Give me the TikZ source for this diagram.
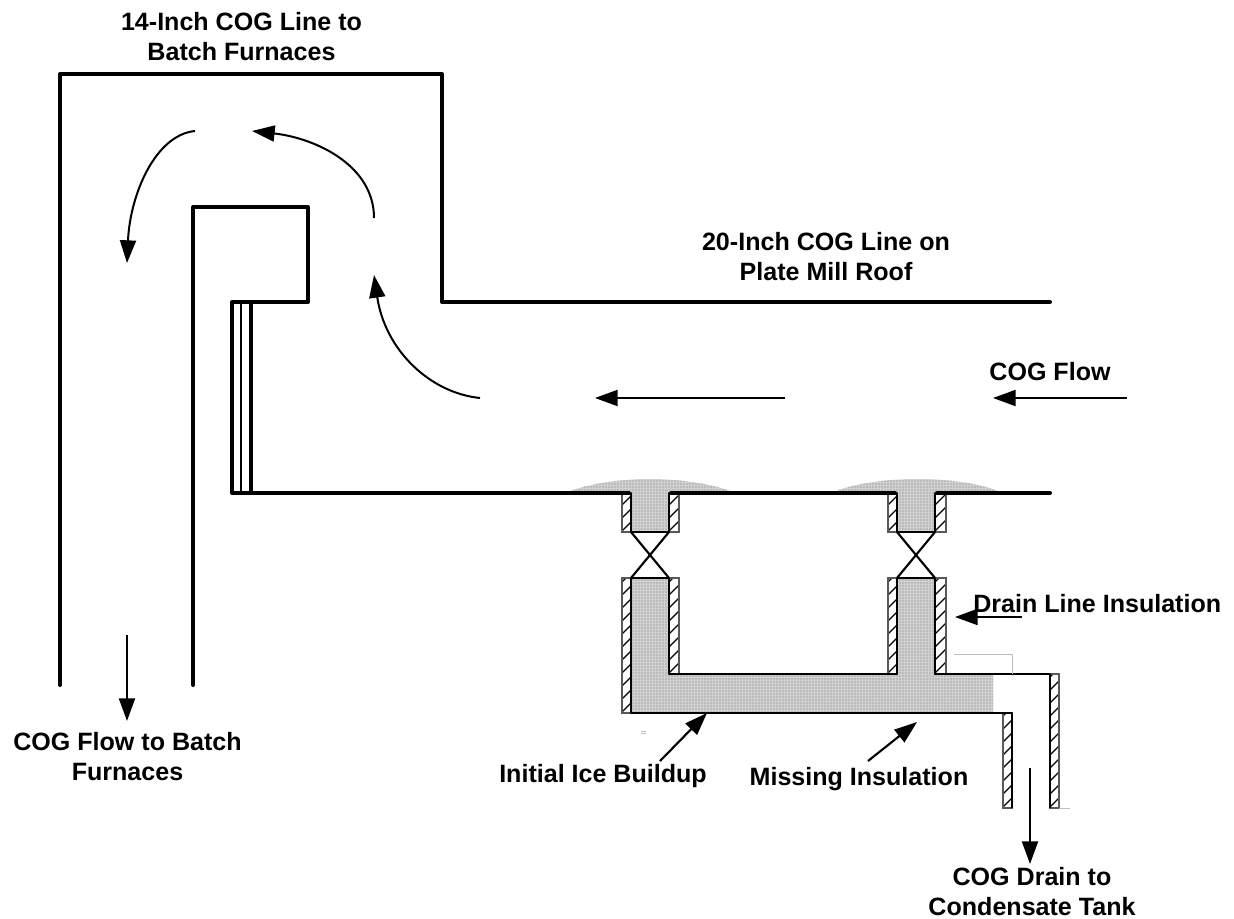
\documentclass[tikz,border=0pt]{standalone}
\usepackage{fontspec}
\setmainfont{Liberation Sans}
\usetikzlibrary{arrows.meta,patterns.meta}
\definecolor{ice}{gray}{0.82}
\tikzset{
  pipe/.style={line width=3pt,line cap=round,line join=round},
  thinpipe/.style={line width=2.2pt,line join=round},
  hatchbox/.style={line width=.8pt,draw=black!65},
  flow/.style={line width=1.6pt,-{Triangle[length=17pt,width=12pt]}},
  bent/.style={line width=1.5pt,-{Triangle[length=17pt,width=12pt]}},
  lab/.style={font=\fontsize{18.8}{22.5}\selectfont\bfseries,align=center,inner sep=0pt},
  ghost/.style={line width=.6pt,draw=gray!50},
  icefill/.style={fill=ice,postaction={pattern={Dots[distance=2.25pt,radius=.48pt]},pattern color=black!55}}
}
\newcommand{\hatchrect}[4]{%
  \begin{scope}
    \clip (#1,#2) rectangle (#3,#4);
    \foreach \k in {-160,-147,...,160}{
      \draw[line width=.9pt] ({#1-10},{#4+\k}) -- ++(40,-40);
    }
  \end{scope}
  \draw[hatchbox] (#1,#2) rectangle (#3,#4);
}
\begin{document}
\begin{tikzpicture}[x=0.75pt,y=-0.75pt]
\useasboundingbox (0,0) rectangle (1234,919);
% ice
\path[icefill] (566,493) .. controls (585,484) and (620,479) .. (650,479) .. controls (680,479) and (715,484) .. (735,493) -- (669,493) -- (669,532) -- (631,532) -- (631,493) -- cycle;
\path[icefill] (832,493) .. controls (850,484) and (885,479) .. (917,479) .. controls (950,479) and (985,484) .. (1002,493) -- (935,493) -- (935,532) -- (897,532) -- (897,493) -- cycle;
\path[icefill] (631,578) -- (669,578) -- (669,674) -- (897,674) -- (897,578) -- (935,578) -- (935,674) -- (993,674) -- (993,713) -- (631,713) -- cycle;
% hatching
\hatchrect{622}{493}{631}{532}
\hatchrect{669}{493}{679}{532}
\hatchrect{888}{493}{897}{532}
\hatchrect{935}{493}{946}{532}
\hatchrect{622}{578}{631}{713}
\hatchrect{669}{578}{679}{674}
\hatchrect{888}{578}{897}{674}
\hatchrect{935}{578}{946}{674}
\hatchrect{1003}{713}{1012}{808}
\hatchrect{1050}{674}{1059}{808}
% main pipes
\draw[pipe] (60,685) -- (60,74) -- (442,74) -- (442,302) -- (1050,302);
\draw[pipe] (193,685) -- (193,207) -- (308,207) -- (308,302) -- (232,302) -- (232,493) -- (629,493);
\draw[pipe] (671,493) -- (895,493);
\draw[pipe] (937,493) -- (1050,493);
\draw[line width=1.6pt] (241,302) -- (241,493);
\draw[pipe] (251,302) -- (251,493);
% drain line walls
\draw[thinpipe] (631,493) -- (631,532) -- (669,532) -- (669,493);
\draw[thinpipe] (897,493) -- (897,532) -- (935,532) -- (935,493);
\draw[line width=1.6pt] (631,532) -- (669,578) (669,532) -- (631,578);
\draw[line width=1.6pt] (897,532) -- (935,578) (935,532) -- (897,578);
\draw[line width=1.6pt] (631,578) -- (669,578);
\draw[line width=1.6pt] (897,578) -- (935,578);
\draw[thinpipe] (631,578) -- (631,713) -- (1012,713) -- (1012,808);
\draw[thinpipe] (669,578) -- (669,674) -- (897,674) -- (897,578);
\draw[thinpipe] (935,578) -- (935,674) -- (1050,674) -- (1050,808);
% faint lines
\draw[ghost] (954,654) -- (1012,654) -- (1012,674);
\draw[ghost] (1059,808) -- (1070,808);
\draw[ghost] (641,731) -- (646,731) (641,733) -- (646,733);
% labels
\node[lab] (l14) at (241.5,37) {14-Inch COG Line to\\Batch Furnaces};
\node[lab] (l20) at (826,257) {20-Inch COG Line on\\Plate Mill Roof};
\node[lab] (lflow) at (1050,372) {COG Flow};
\node[lab] (lbatch) at (127.5,757) {COG Flow to Batch\\Furnaces};
\node[lab,anchor=west] (ldrain) at (973,604) {Drain Line Insulation};
\node[lab] (lice) at (603,776) {Initial Ice Buildup};
\node[lab] (lmiss) at (859,779) {Missing Insulation};
\node[lab] (lcond) at (1032,892) {COG Drain to\\Condensate Tank};
% arrows
\coordinate (a1s) at (1127,398); \coordinate (a1e) at (993,398);
\coordinate (a2s) at (785,398); \coordinate (a2e) at (595,398);
\coordinate (a3s) at (127,635); \coordinate (a3e) at (127,721);
\coordinate (a4s) at (1022,617); \coordinate (a4e) at (955,617);
\coordinate (a5s) at (660,761); \coordinate (a5e) at (707,713);
\coordinate (a6s) at (868,761); \coordinate (a6e) at (917,722);
\coordinate (a7s) at (1030,768); \coordinate (a7e) at (1030,864);
\draw[flow] (a1s) -- (a1e);
\draw[flow] (a2s) -- (a2e);
\draw[flow] (a3s) -- (a3e);
\draw[flow] (a4s) -- (a4e);
\draw[flow] (a5s) -- (a5e);
\draw[flow] (a6s) -- (a6e);
\draw[flow] (a7s) -- (a7e);
\coordinate (b1s) at (480,398); \coordinate (b1e) at (374,275);
\coordinate (b2s) at (374,218); \coordinate (b2e) at (252,131);
\coordinate (b3s) at (195,131); \coordinate (b3e) at (127,263);
\draw[bent] (b1s) .. controls (430,393) and (385,350) .. (b1e);
\draw[bent] (b2s) .. controls (374,165) and (315,138) .. (b2e);
\draw[bent] (b3s) .. controls (155,135) and (130,195) .. (b3e);
\end{tikzpicture}
\end{document}
